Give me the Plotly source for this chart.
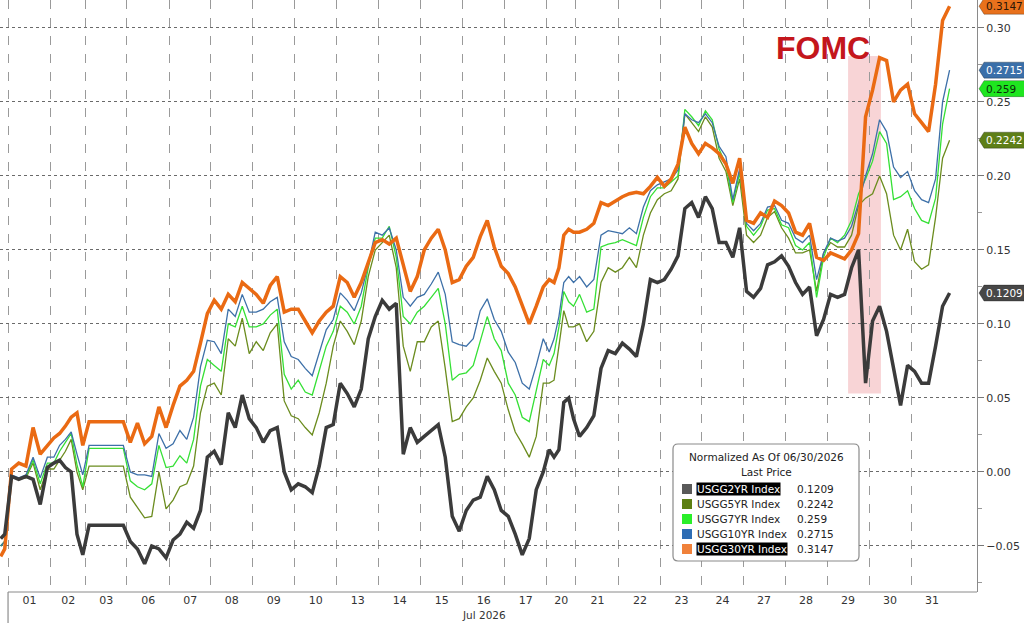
import numpy as np
import plotly.graph_objects as go

# trading sessions shown on the x axis, and how long each one runs (hours)
day_labels = ["01", "02", "03", "06", "07", "08", "09", "10", "13", "14", "15", "16",
              "17", "20", "21", "22", "23", "24", "27", "28", "29", "30", "31"]
session_hours = [23.5, 19, 22.5, 23.5, 22.5, 23, 23, 23, 23, 23, 23, 23,
                 23, 16, 23.5, 23, 22.5, 22.5, 23, 23, 23, 23, 23]
samples_per_day = 6
prior_hours = [-4.0, -1.8]  # tail of 06/30 session

# normalized yield moves (two 06/30 points, then 6 readings per session)
usgg2 = [-0.045, -0.042,
         -0.003, -0.005, -0.003, -0.005, -0.022, 0.003,
         0.006, 0.008, 0.003, 0.000, -0.042, -0.056,
         -0.036, -0.036, -0.036, -0.036, -0.036, -0.036,
         -0.047, -0.052, -0.062, -0.050, -0.052, -0.058,
         -0.046, -0.042, -0.034, -0.038, -0.026, 0.010,
         0.014, 0.005, 0.040, 0.030, 0.052, 0.036,
         0.030, 0.020, 0.028, 0.030, 0.000, -0.012,
         -0.008, -0.010, -0.014, 0.004, 0.030, 0.032,
         0.060, 0.053, 0.044, 0.056, 0.090, 0.105,
         0.116, 0.110, 0.114, 0.012, 0.030, 0.020,
         0.024, 0.028, 0.032, 0.010, -0.030, -0.040,
         -0.026, -0.019, -0.017, -0.003, -0.012, -0.026,
         -0.030, -0.042, -0.056, -0.045, -0.012, 0.000,
         0.015, 0.010, 0.015, 0.047, 0.050, 0.036,
         0.024, 0.030, 0.038, 0.070, 0.082, 0.080,
         0.087, 0.083, 0.078, 0.100, 0.130, 0.128,
         0.130, 0.137, 0.146, 0.178, 0.182, 0.172,
         0.186, 0.178, 0.155, 0.155, 0.145, 0.165,
         0.122, 0.118, 0.124, 0.140, 0.142, 0.146,
         0.139, 0.128, 0.120, 0.125, 0.092, 0.103,
         0.120, 0.118, 0.120, 0.138, 0.150, 0.060,
         0.102, 0.112, 0.095, 0.070, 0.045, 0.072,
         0.068, 0.060, 0.060, 0.085, 0.112, 0.1209]

usgg5 = [-0.050, -0.047,
         -0.003, -0.005, -0.004, 0.006, -0.012, 0.002,
         0.002, 0.008, 0.014, 0.022, 0.000, -0.012,
         0.004, 0.004, 0.004, 0.004, 0.004, 0.004,
         -0.017, -0.024, -0.031, -0.030, 0.000, -0.025,
         -0.019, -0.010, -0.008, 0.004, 0.040, 0.058,
         0.060, 0.052, 0.090, 0.085, 0.104, 0.080,
         0.088, 0.082, 0.094, 0.100, 0.048, 0.038,
         0.036, 0.030, 0.025, 0.040, 0.060, 0.085,
         0.102, 0.095, 0.086, 0.102, 0.132, 0.150,
         0.155, 0.160, 0.138, 0.085, 0.068, 0.088,
         0.088, 0.098, 0.102, 0.070, 0.034, 0.036,
         0.044, 0.050, 0.062, 0.077, 0.068, 0.060,
         0.042, 0.027, 0.019, 0.010, 0.024, 0.060,
         0.060, 0.062, 0.085, 0.109, 0.098, 0.098,
         0.100, 0.088, 0.095, 0.128, 0.138, 0.135,
         0.138, 0.145, 0.138, 0.160, 0.175, 0.184,
         0.188, 0.190, 0.198, 0.242, 0.236, 0.230,
         0.240, 0.233, 0.212, 0.203, 0.180, 0.198,
         0.160, 0.155, 0.160, 0.172, 0.176, 0.165,
         0.158, 0.148, 0.148, 0.150, 0.122, 0.148,
         0.155, 0.152, 0.152, 0.160, 0.180, 0.185,
         0.188, 0.200, 0.188, 0.160, 0.150, 0.164,
         0.142, 0.137, 0.140, 0.172, 0.212, 0.2242]

usgg7 = [-0.050, -0.047,
         -0.003, -0.005, -0.003, 0.008, -0.008, 0.006,
         0.006, 0.014, 0.020, 0.026, 0.005, -0.010,
         0.016, 0.016, 0.016, 0.016, 0.016, 0.016,
         -0.006, -0.010, -0.012, -0.008, 0.018, 0.003,
         0.004, 0.011, 0.006, 0.022, 0.058, 0.076,
         0.072, 0.068, 0.100, 0.098, 0.112, 0.098,
         0.098, 0.100, 0.106, 0.110, 0.066, 0.056,
         0.062, 0.054, 0.052, 0.068, 0.085, 0.095,
         0.112, 0.108, 0.100, 0.112, 0.138, 0.158,
         0.158, 0.166, 0.145, 0.105, 0.100, 0.108,
         0.112, 0.118, 0.124, 0.100, 0.062, 0.066,
         0.067, 0.072, 0.088, 0.105, 0.090, 0.082,
         0.060, 0.052, 0.037, 0.034, 0.055, 0.076,
         0.072, 0.080, 0.098, 0.122, 0.115, 0.112,
         0.120, 0.108, 0.110, 0.152, 0.154, 0.155,
         0.157, 0.155, 0.153, 0.172, 0.186, 0.192,
         0.192, 0.196, 0.200, 0.245, 0.240, 0.234,
         0.244, 0.238, 0.218, 0.208, 0.182, 0.202,
         0.166, 0.160, 0.166, 0.177, 0.178, 0.167,
         0.165, 0.153, 0.150, 0.155, 0.118, 0.145,
         0.158, 0.155, 0.160, 0.170, 0.188, 0.198,
         0.210, 0.230, 0.222, 0.184, 0.186, 0.190,
         0.178, 0.170, 0.168, 0.185, 0.235, 0.259]

usgg10 = [-0.050, -0.047,
          -0.002, -0.004, -0.002, 0.010, -0.004, 0.010,
          0.010, 0.018, 0.022, 0.027, 0.012, -0.002,
          0.018, 0.018, 0.018, 0.018, 0.018, 0.018,
          0.000, -0.002, -0.002, -0.003, 0.026, 0.016,
          0.019, 0.028, 0.022, 0.037, 0.071, 0.089,
          0.088, 0.080, 0.110, 0.105, 0.120, 0.108,
          0.108, 0.110, 0.115, 0.118, 0.088, 0.078,
          0.076, 0.070, 0.065, 0.080, 0.096, 0.103,
          0.121, 0.116, 0.109, 0.121, 0.140, 0.162,
          0.160, 0.165, 0.150, 0.118, 0.112, 0.118,
          0.120, 0.127, 0.135, 0.120, 0.088, 0.086,
          0.085, 0.090, 0.109, 0.117, 0.103, 0.095,
          0.081, 0.074, 0.060, 0.056, 0.072, 0.090,
          0.081, 0.090, 0.105, 0.128, 0.132, 0.128,
          0.132, 0.125, 0.130, 0.160, 0.163, 0.162,
          0.161, 0.165, 0.161, 0.179, 0.190, 0.194,
          0.196, 0.198, 0.204, 0.242, 0.238, 0.236,
          0.242, 0.236, 0.220, 0.213, 0.184, 0.205,
          0.168, 0.163, 0.168, 0.179, 0.180, 0.170,
          0.168, 0.158, 0.155, 0.160, 0.130, 0.148,
          0.158, 0.156, 0.158, 0.166, 0.182, 0.200,
          0.215, 0.238, 0.230, 0.206, 0.199, 0.203,
          0.190, 0.184, 0.182, 0.198, 0.250, 0.2715]

usgg30 = [-0.057, -0.052,
          0.002, 0.006, 0.004, 0.030, 0.012, 0.018,
          0.023, 0.026, 0.031, 0.037, 0.040, 0.018,
          0.034, 0.034, 0.034, 0.034, 0.034, 0.034,
          0.020, 0.033, 0.019, 0.024, 0.044, 0.030,
          0.045, 0.058, 0.062, 0.068, 0.087, 0.107,
          0.116, 0.110, 0.120, 0.115, 0.128, 0.124,
          0.120, 0.114, 0.126, 0.132, 0.108, 0.110,
          0.110, 0.102, 0.094, 0.102, 0.108, 0.112,
          0.132, 0.128, 0.118, 0.128, 0.142, 0.155,
          0.157, 0.154, 0.158, 0.140, 0.122, 0.132,
          0.150, 0.158, 0.164, 0.150, 0.128, 0.130,
          0.139, 0.145, 0.159, 0.170, 0.152, 0.139,
          0.134, 0.125, 0.112, 0.100, 0.112, 0.125,
          0.130, 0.128, 0.138, 0.160, 0.164, 0.162,
          0.162, 0.164, 0.168, 0.182, 0.180, 0.183,
          0.186, 0.188, 0.189, 0.188, 0.193, 0.199,
          0.193, 0.198, 0.208, 0.233, 0.222, 0.215,
          0.222, 0.219, 0.215, 0.208, 0.195, 0.212,
          0.170, 0.168, 0.175, 0.172, 0.183, 0.180,
          0.175, 0.162, 0.160, 0.168, 0.145, 0.143,
          0.148, 0.146, 0.144, 0.150, 0.161, 0.240,
          0.258, 0.280, 0.278, 0.250, 0.258, 0.262,
          0.242, 0.236, 0.230, 0.262, 0.305, 0.3147]

y_ticks = [-0.05, 0.00, 0.05, 0.10, 0.15, 0.20, 0.25, 0.30]
fomc_window = (460.0, 478.0)   # hours
fomc_band = (0.053, 0.281)

# name, data, line colour, line width, legend swatch, tag colour, tag text colour, highlighted
series = [
    ("USGG2YR Index", usgg2, "#3b3b3b", 3.5, "#595959", "#474747", "white", True),
    ("USGG5YR Index", usgg5, "#6b8c1e", 1.3, "#5c7f12", "#5e7f18", "white", False),
    ("USGG7YR Index", usgg7, "#35e035", 1.3, "#2aef2a", "#1fe61f", "#0b2e0b", False),
    ("USGG10YR Index", usgg10, "#3d70a8", 1.3, "#2e6db4", "#3a6fa9", "white", False),
    ("USGG30YR Index", usgg30, "#ea6a13", 3.5, "#f0813a", "#e8711c", "#2a1606", True),
]

edges = np.concatenate([[0.0], np.cumsum(session_hours)])
centers = (edges[:-1] + edges[1:]) / 2
x = list(prior_hours)
for start, width in zip(edges[:-1], session_hours):
    for k in range(samples_per_day):
        x.append(start + (k + 0.5) / samples_per_day * width)

PLOT_W, PLOT_H = 977, 592
x_range = [-4.4, 530.6]
y_range = [-0.0811, 0.3189]
font = "DejaVu Sans"

fig = go.Figure()

# FOMC window
fig.add_shape(type="rect", x0=fomc_window[0], x1=fomc_window[1],
              y0=fomc_band[0], y1=fomc_band[1], xref="x", yref="y",
              fillcolor="rgba(240,160,165,0.45)", line_width=0, layer="below")

for name, data, color, lw, _, _, _, _ in [series[1], series[2], series[3], series[4], series[0]]:
    fig.add_trace(go.Scatter(x=x, y=data, mode="lines", name=name,
                             line=dict(color=color, width=lw), showlegend=False))

fig.add_annotation(x=446.3, y=0.2865, xref="x", yref="y", text="<b>FOMC</b>",
                   xanchor="center", yanchor="middle", showarrow=False,
                   font=dict(family="Liberation Sans", size=32, color="#c4161c"))

# last-price tags on the right axis
px_x = 1.0 / PLOT_W
half_h = 8 * (y_range[1] - y_range[0]) / PLOT_H
for name, data, _, _, _, tag, tagfont, _ in series:
    v = data[-1]
    x0, x1, x2 = 1 + 2 * px_x, 1 + 7 * px_x, 1 + 70 * px_x
    fig.add_shape(type="path", xref="paper", yref="y",
                  path=f"M {x0},{v} L {x1},{v + half_h} L {x2},{v + half_h} L {x2},{v - half_h} L {x1},{v - half_h} Z",
                  fillcolor=tag, line=dict(color="rgba(0,0,0,0.35)", width=0.8))
    fig.add_annotation(x=x1, y=v, xref="paper", yref="y", xanchor="left", yanchor="middle",
                       text=f"{v:g}", showarrow=False,
                       font=dict(family=font, size=10.5, color=tagfont))

# legend box
def px2paper(px, py):
    return px / PLOT_W, (PLOT_H - py) / PLOT_H

def label(px, py, text, anchor="left", **kw):
    ax, ay = px2paper(px, py)
    fig.add_annotation(x=ax, y=ay, xref="paper", yref="paper", xanchor=anchor, yanchor="middle",
                       text=text, showarrow=False, **kw)

bx0, by0 = px2paper(673, 561)
bx1, by1 = px2paper(859, 444)
rx, ry = 5 / PLOT_W, 5 / PLOT_H
box = (f"M {bx0 + rx},{by0} L {bx1 - rx},{by0} Q {bx1},{by0} {bx1},{by0 + ry} "
       f"L {bx1},{by1 - ry} Q {bx1},{by1} {bx1 - rx},{by1} L {bx0 + rx},{by1} "
       f"Q {bx0},{by1} {bx0},{by1 - ry} L {bx0},{by0 + ry} Q {bx0},{by0} {bx0 + rx},{by0} Z")
fig.add_shape(type="path", xref="paper", yref="paper", path=box,
              fillcolor="white", line=dict(color="#8a8a8a", width=1.2))
label(766, 457, "Normalized As Of 06/30/2026", anchor="center",
      font=dict(family=font, size=10.5, color="#222"))
label(766, 472, "Last Price", anchor="center", font=dict(family=font, size=10.5, color="#222"))
for i, (name, data, _, _, swatch, _, _, hl) in enumerate(series):
    row_y = 489 + i * 15
    sx0, sy0 = px2paper(682, row_y + 5)
    sx1, sy1 = px2paper(692, row_y - 5)
    fig.add_shape(type="rect", xref="paper", yref="paper", x0=sx0, x1=sx1, y0=sy0, y1=sy1,
                  fillcolor=swatch, line_width=0)
    label(696, row_y, name, bgcolor="black" if hl else None, borderpad=0,
          font=dict(family=font, size=10.5, color="white" if hl else "#222"))
    label(795, row_y, f"{data[-1]:g}", font=dict(family=font, size=10.5, color="#222"))

# month label and month-start marker
fig.add_annotation(x=centers[day_labels.index("16")], y=-0.039, xref="x", yref="paper",
                   xanchor="center", yanchor="middle",
                   text="Jul 2026", showarrow=False, font=dict(family=font, size=10.5, color="#333"))
fig.add_shape(type="line", x0=0, x1=0, y0=0, y1=-0.06, xref="x", yref="paper",
              line=dict(color="#777", width=1))
ax0, _ = px2paper(8, 0)
fig.add_shape(type="line", x0=ax0, x1=1, y0=0, y1=0, xref="paper", yref="paper",
              line=dict(color="#8a8a8a", width=1))

fig.update_layout(
    width=1024, height=623,
    margin=dict(l=0, r=47, t=0, b=31),
    paper_bgcolor="white", plot_bgcolor="white",
    font=dict(family=font, size=10.5, color="#333"),
    xaxis=dict(range=x_range, tickmode="array", tickvals=list(centers), ticktext=day_labels,
               showgrid=False, zeroline=False, showline=False, ticks="",
               tickfont=dict(size=11, color="#333"),
               minor=dict(tickmode="array", tickvals=list(edges[:-1]), showgrid=True,
                          gridcolor="#9a9a9a", griddash="dash", gridwidth=1, ticks="")),
    yaxis=dict(range=y_range, side="right", tickmode="array", tickvals=y_ticks,
               tickformat=".2f", showgrid=True, gridcolor="#6a6a6a", griddash="dot",
               gridwidth=1, zeroline=False, showline=True, linecolor="#8a8a8a",
               ticks="outside", ticklen=6, tickcolor="#777",
               tickfont=dict(size=11, color="#333"),
               minor=dict(dtick=0.05, tick0=0.025, ticks="outside", ticklen=4,
                          tickcolor="#999", showgrid=False)),
)

fig.write_html("out.html", config={"displayModeBar": False},
               post_script="document.body.style.margin='0';")
